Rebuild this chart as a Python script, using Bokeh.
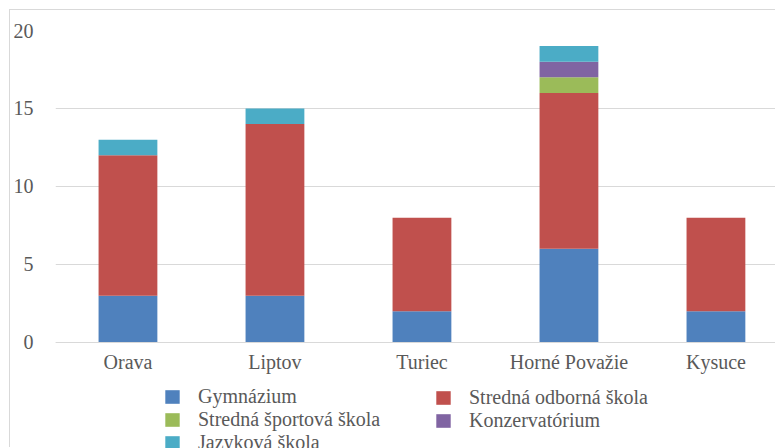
from bokeh.plotting import figure
from bokeh.models import ColumnDataSource, Range1d, FixedTicker, Legend, LegendItem
from bokeh.embed import file_html
from bokeh.resources import INLINE

# ---- data ----
categories = ["Orava", "Liptov", "Turiec", "Horné Považie", "Kysuce"]
gymnazium = [3, 3, 2, 6, 2]
stredna_odborna = [9, 11, 6, 10, 6]
sportova = [0, 0, 0, 1, 0]
konzervatorium = [0, 0, 0, 1, 0]
jazykova = [1, 1, 0, 1, 0]
series_names = ["Gymnázium", "Stredná odborná škola", "Stredná športová škola",
                "Konzervatórium", "Jazyková škola"]
series_colors = ["#4F81BD", "#C0504D", "#9BBB59", "#8064A2", "#4BACC6"]
y_ticks = [0, 5, 10, 15, 20]

FONT = "Liberation Serif"
TXT = "#595959"
GRID = "#D9D9D9"

keys = ["gym", "sos", "sport", "konz", "jaz"]
src = ColumnDataSource(dict(
    x=list(range(len(categories))),
    gym=gymnazium, sos=stredna_odborna, sport=sportova,
    konz=konzervatorium, jaz=jazykova,
))

# frame extends down to the bottom edge so the legend can sit below the x axis
p = figure(width=766, height=438, output_backend="svg", toolbar_location=None,
           x_range=Range1d(-0.493, 4.412), y_range=Range1d(-6.8, 20),
           min_border_left=45, min_border_top=20, min_border_right=0,
           min_border_bottom=0)
p.styles = {"margin-left": "9px", "margin-top": "9px",
            "border-left": f"1px solid {GRID}", "border-top": f"1px solid {GRID}"}
p.outline_line_color = None
p.background_fill_color = "white"
p.border_fill_color = "white"

rs = p.vbar_stack(keys, x="x", width=0.4, source=src, color=series_colors,
                  line_color=None)

# axes
p.yaxis.ticker = FixedTicker(ticks=y_ticks)
p.yaxis.axis_line_color = None
p.yaxis.major_tick_line_color = None
p.yaxis.minor_tick_line_color = None
p.yaxis.major_tick_out = 0
p.yaxis.major_tick_in = 0
p.yaxis.major_label_standoff = 22
p.xaxis.fixed_location = 0
p.xaxis.ticker = FixedTicker(ticks=list(range(len(categories))))
p.xaxis.major_label_overrides = {i: c for i, c in enumerate(categories)}
p.xaxis.axis_line_color = GRID
p.xaxis.axis_line_width = 1
p.xaxis.major_tick_line_color = None
p.xaxis.minor_tick_line_color = None
p.xaxis.major_tick_out = 0
p.xaxis.major_tick_in = 0
p.xaxis.major_label_standoff = 9
for ax in (p.xaxis, p.yaxis):
    ax.major_label_text_font = FONT
    ax.major_label_text_font_size = "20px"
    ax.major_label_text_color = TXT

p.xgrid.grid_line_color = None
p.ygrid.grid_line_color = GRID
p.ygrid.grid_line_width = 1

def make_legend(idx, loc):
    return Legend(items=[LegendItem(label=series_names[i], renderers=[rs[i]]) for i in idx],
                  location=loc, orientation="vertical", padding=0, margin=0, spacing=-1,
                  border_line_color=None, background_fill_alpha=0,
                  glyph_width=18, glyph_height=17, label_standoff=17,
                  label_text_font=FONT, label_text_font_size="20px",
                  label_text_color=TXT)

p.add_layout(make_legend([0, 2, 4], (108, -6)), "center")
p.add_layout(make_legend([1, 3], (379, 16)), "center")

open("out.html", "w").write(file_html(p, INLINE))
